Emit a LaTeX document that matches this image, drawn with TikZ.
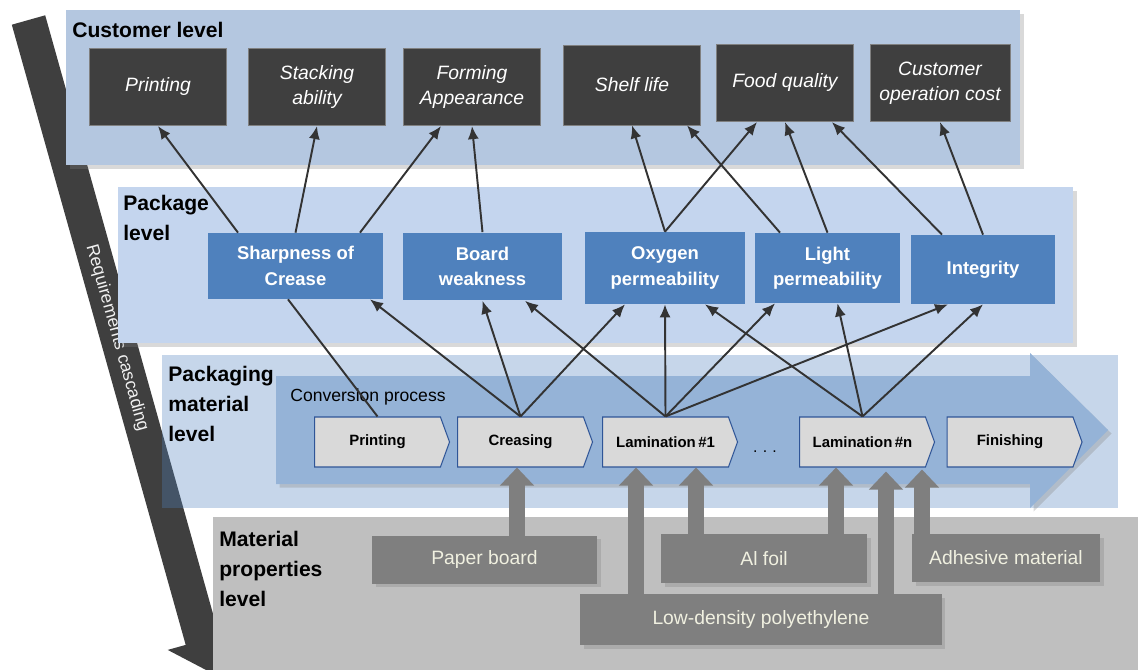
\documentclass[tikz,border=0pt]{standalone}
\usepackage{fontspec}
\setmainfont{Liberation Sans}
\usepackage{tikz}
\usetikzlibrary{arrows.meta,shapes.symbols,shadows}
\definecolor{custpanel}{HTML}{B4C7E0}
\definecolor{pkgpanel}{HTML}{C4D5EE}
\definecolor{matpanel}{HTML}{BFBFBF}
\definecolor{darkbox}{HTML}{3F3F3F}
\definecolor{bluebox}{HTML}{4F81BD}
\definecolor{procblue}{HTML}{95B3D7}
\definecolor{stepgray}{HTML}{D9D9D9}
\definecolor{stepedge}{HTML}{2F5597}
\definecolor{matgray}{HTML}{7F7F7F}
\definecolor{mattext}{HTML}{F0F0E0}
\definecolor{linegray}{HTML}{333333}
\tikzstyle{shade}=[drop shadow={shadow xshift=2pt, shadow yshift=-2pt, opacity=0.3}]
\tikzstyle{custbox}=[rectangle, fill=darkbox, draw=gray, line width=0.4pt, text=white, align=center, minimum width=2.75cm, minimum height=1.55cm, font=\itshape\fontsize{11}{14}\selectfont]
\tikzstyle{pkgbox}=[rectangle, fill=bluebox, text=white, align=center, minimum height=1.36cm, font=\bfseries\fontsize{10.5}{14.5}\selectfont]
\tikzstyle{procstep}=[signal, signal to=east, signal from=nowhere, signal pointer angle=140, fill=stepgray, draw=stepedge, line width=0.6pt, minimum width=2.7cm, minimum height=1cm, font=\bfseries\fontsize{8.5}{10}\selectfont]
\tikzstyle{matbox}=[rectangle, fill=matgray, text=mattext, minimum height=0.96cm, font=\fontsize{11}{13}\selectfont, shade]
\tikzstyle{levellabel}=[anchor=north west, inner sep=0pt, align=left, font=\bfseries\fontsize{12}{17}\selectfont]
\tikzstyle{arrow}=[draw=linegray, line width=1.1pt, -{Latex[length=2.6mm, width=2.2mm]}]
\tikzstyle{fatarrow}=[draw=matgray, line width=0.32cm, -{Triangle[length=0.36cm, width=0.66cm]}]

\begin{document}
\begin{tikzpicture}[x=0.02cm, y=-0.02cm]
	\useasboundingbox (0,0) rectangle (1138,669);

	\fill[darkbox] (11.8,24.7) -- (45.2,15.3) -- (219.1,635.5) -- (237.1,630.5) -- (211.6,672.9)
		-- (167.7,649.9) -- (185.7,644.9) -- cycle;
	\node (cascade) at (117,338)[rotate=-74.3, text=white!94!black, font=\fontsize{10}{12}\selectfont] {Requirements cascading};

	\fill[custpanel, shade] (66,10) rectangle (1020,165);
	\fill[pkgpanel, shade] (118,187) rectangle (1073,343);
	\fill[bluebox, fill opacity=0.32] (162,355) rectangle (1118,508);
	\fill[matpanel] (213,517) rectangle (1140,672);

	\node (lCust) at (72,22)[levellabel] {Customer level};
	\node (lPkg) at (123,195)[levellabel] {Package\\level};
	\node (lPmat) at (168,366)[levellabel] {Packaging\\material\\level};
	\node (lMat) at (219,531)[levellabel] {Material\\properties\\level};

	\fill[procblue, shade] (276,376) -- (1030,376) -- (1030,353) -- (1108,430) -- (1030,508) -- (1030,484) -- (276,484) -- cycle;
	\node (conv) at (290,397)[anchor=west, inner sep=0pt, font=\fontsize{10}{12}\selectfont] {Conversion process};

	\node (cPrint) at (158,87)[custbox] {Printing};
	\node (cStack) at (317,87)[custbox] {Stacking\\ability};
	\node (cForm) at (472,87)[custbox] {Forming\\Appearance};
	\node (cShelf) at (632,85)[custbox, minimum height=1.6cm] {Shelf life};
	\node (cFood) at (785,83)[custbox] {Food quality};
	\node (cCost) at (940,83)[custbox, minimum width=2.8cm] {Customer\\operation cost};

	\node (pSharp) at (295.5,266)[pkgbox, minimum width=3.5cm, minimum height=1.32cm] {Sharpness of\\Crease};
	\node (pBoard) at (482.5,266.5)[pkgbox, minimum width=3.18cm] {Board\\weakness};
	\node (pOxy) at (665,268)[pkgbox, minimum width=3.2cm, minimum height=1.44cm] {Oxygen\\permeability};
	\node (pLight) at (827.5,268)[pkgbox, minimum width=2.9cm, minimum height=1.4cm] {Light\\permeability};
	\node (pInteg) at (983,269.5)[pkgbox, minimum width=2.88cm, minimum height=1.38cm] {Integrity};

	\node (mPrint) at (377.5,442)[procstep] {Printing};
	\node (mCrease) at (520.5,442)[procstep] {Creasing};
	\node (mLamA) at (665.5,442)[procstep] {Lamination\,\#1};
	\node (dots) at (765,452)[font=\fontsize{9}{10}\selectfont] {.\,\,.\,\,.};
	\node (mLamN) at (862.5,442)[procstep] {Lamination\,\#n};
	\node (mFinish) at (1010,442)[procstep] {Finishing};

	\draw[fatarrow] ([xshift=0.65cm]484.5,536) coordinate (fa) -- (fa |- mCrease.south);
	\draw[fatarrow] ([xshift=-2.5cm]761,594) coordinate (fb) -- (fb |- mLamA.south);
	\draw[fatarrow] ([xshift=-1.36cm]764,534) coordinate (fc) -- (fc |- mLamA.south);
	\draw[fatarrow] ([xshift=1.44cm]764,534) coordinate (fd) -- (fd |- mLamN.south);
	\draw[fatarrow] ([xshift=2.5cm]761,594) coordinate (fe) -- ([yshift=-0.08cm]fe |- mLamN.south);
	\draw[fatarrow] ([xshift=-1.68cm]1006,534) coordinate (ff) -- ([yshift=-0.04cm]ff |- mLamN.south);

	\node (matPaper) at (484.5,559.5)[matbox, minimum width=4.5cm] {Paper board};
	\node (matAl) at (764,558.5)[matbox, minimum width=4.12cm, minimum height=0.98cm] {Al foil};
	\node (matAdh) at (1006,558)[matbox, minimum width=3.76cm] {Adhesive material};
	\node (matLdpe) at (761,619.5)[matbox, minimum width=7.24cm, minimum height=1.02cm] {Low-density polyethylene};

	\draw[arrow] ([xshift=-1.15cm]pSharp.north) -- (cPrint.south);
	\draw[arrow] (pSharp.north) -- (cStack.south);
	\draw[arrow] ([xshift=1.29cm]pSharp.north) -- ([xshift=-0.62cm]cForm.south);
	\draw[arrow] (pBoard.north) -- (cForm.south);
	\draw[arrow] (pOxy.north) -- (cShelf.south);
	\draw[arrow] (pOxy.north) -- ([xshift=-0.56cm]cFood.south);
	\draw[arrow] ([xshift=-0.95cm]pLight.north) -- ([xshift=1.1cm]cShelf.south);
	\draw[arrow] (pLight.north) -- (cFood.south);
	\draw[arrow] ([xshift=-0.82cm]pInteg.north) -- ([xshift=0.94cm]cFood.south);
	\draw[arrow] (pInteg.north) -- (cCost.south);

	\draw[arrow, -] (mPrint.north) -- ([xshift=-0.15cm]pSharp.south);
	\draw[arrow] (mCrease.north) -- ([xshift=1.49cm]pSharp.south);
	\draw[arrow] (mCrease.north) -- (pBoard.south);
	\draw[arrow] (mCrease.north) -- ([xshift=-0.8cm]pOxy.south);
	\draw[arrow] (mLamA.north) -- ([xshift=0.85cm]pBoard.south);
	\draw[arrow] (mLamA.north) -- (pOxy.south);
	\draw[arrow] (mLamA.north) -- ([xshift=-1.05cm]pLight.south);
	\draw[arrow] (mLamA.north) -- ([xshift=-0.7cm]pInteg.south);
	\draw[arrow] (mLamN.north) -- ([xshift=0.8cm]pOxy.south);
	\draw[arrow] (mLamN.north) -- ([xshift=0.2cm]pLight.south);
	\draw[arrow] (mLamN.north) -- (pInteg.south);
\end{tikzpicture}
\end{document}
